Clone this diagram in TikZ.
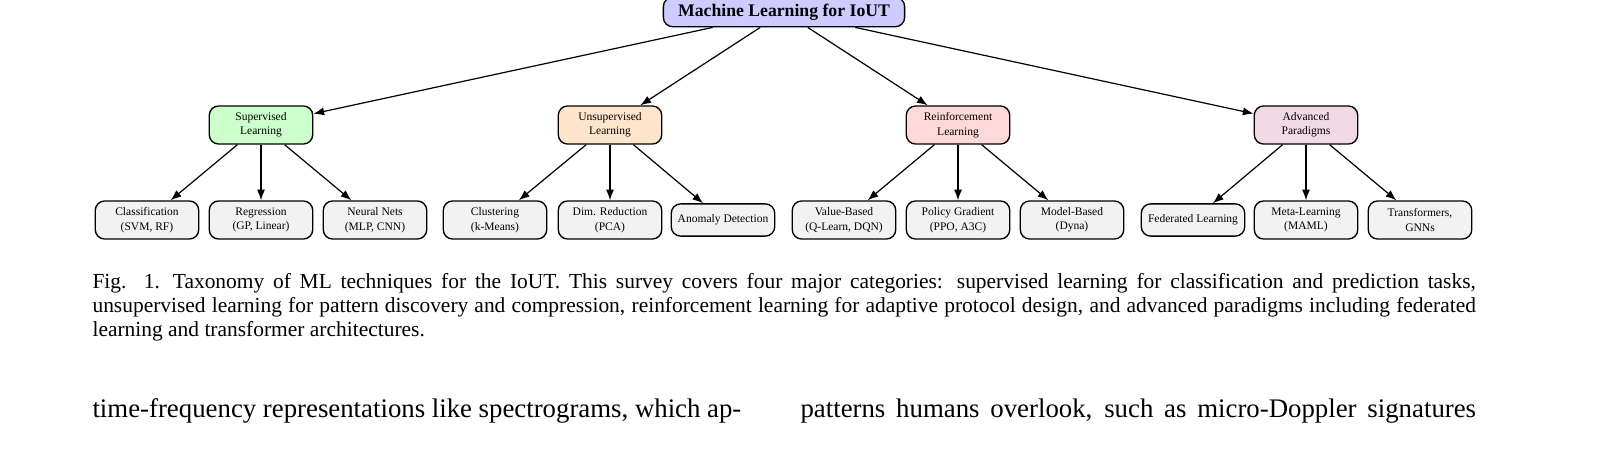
\documentclass[tikz,border=0pt]{standalone}
\usepackage{fontspec}
\setmainfont{Liberation Serif}
\usetikzlibrary{arrows.meta}
\definecolor{cTop}{HTML}{CCCCFF}
\definecolor{cSup}{HTML}{CCFFCC}
\definecolor{cUns}{HTML}{FFE5CC}
\definecolor{cRL}{HTML}{FFD9D9}
\definecolor{cAdv}{HTML}{F2D9E6}
\definecolor{cLeaf}{HTML}{F2F2F2}
\begin{document}
\begin{tikzpicture}[x=0.373pt,y=-0.373pt,
  box/.style={draw=black, rounded corners=3.5pt, line width=0.5pt, align=center, inner sep=0pt},
  top/.style={box, fill=cTop, minimum width=90pt, minimum height=11pt, font=\fontsize{6.6}{7.5}\selectfont\bfseries},
  mid/.style={box, minimum width=38.6pt, minimum height=14.2pt, font=\fontsize{4.3}{5.4}\selectfont},
  leaf/.style={box, fill=cLeaf, minimum width=38.6pt, minimum height=14.2pt, font=\fontsize{4.3}{5.4}\selectfont},
  leaf1/.style={leaf, minimum height=12pt},
  arr/.style={-{Latex[length=4pt,width=3pt]}, line width=0.45pt},
  body/.style={anchor=base west, inner sep=0pt, font=\fontsize{10}{12}\selectfont}]
\node[top] (root) at (784,12) {Machine Learning for IoUT};
\node[mid, fill=cSup] (sup) at (261,125) {Supervised\\Learning};
\node[mid, fill=cUns] (uns) at (610,125) {Unsupervised\\Learning};
\node[mid, fill=cRL] (rl) at (958,125) {Reinforcement\\Learning};
\node[mid, fill=cAdv] (adv) at (1306,125) {Advanced\\Paradigms};
\node[leaf] (s1) at (147,220) {Classification\\(SVM, RF)};
\node[leaf] (s2) at (261,220) {Regression\\(GP, Linear)};
\node[leaf] (s3) at (375,220) {Neural Nets\\(MLP, CNN)};
\node[leaf] (u1) at (495,220) {Clustering\\(k-Means)};
\node[leaf] (u2) at (610,220) {Dim. Reduction\\(PCA)};
\node[leaf1] (u3) at (723,220) {Anomaly Detection};
\node[leaf] (r1) at (844,220) {Value-Based\\(Q-Learn, DQN)};
\node[leaf] (r2) at (958,220) {Policy Gradient\\(PPO, A3C)};
\node[leaf] (r3) at (1072,220) {Model-Based\\(Dyna)};
\node[leaf1] (a1) at (1193,220) {Federated Learning};
\node[leaf] (a2) at (1306,220) {Meta-Learning\\(MAML)};
\node[leaf] (a3) at (1420,220) {Transformers,\\GNNs};
\foreach \m in {sup,uns,rl,adv} {\draw[arr] (root) -- (\m);}
\foreach \a/\b in {sup/s1,sup/s2,sup/s3,uns/u1,uns/u2,uns/u3,rl/r1,rl/r2,rl/r3,adv/a1,adv/a2,adv/a3} {\draw[arr] (\a) -- (\b);}
\node[anchor=north west, inner sep=0pt, text width=516pt, align=justify, font=\fontsize{8}{8.95}\selectfont] (cap) at (92,273)
{Fig. 1.\hspace{0.6em}Taxonomy of ML techniques for the IoUT. This survey covers four major categories: supervised learning for classification and prediction tasks,\linebreak unsupervised learning for pattern discovery and compression, reinforcement learning for adaptive protocol design, and advanced paradigms including federated\linebreak learning and transformer architectures.};
\node[body] (b1) at (92,417) {\makebox[242pt][s]{time-frequency representations like spectrograms, which ap-}};
\node[body] (b2) at (800,417) {\makebox[252pt][s]{patterns humans overlook, such as micro-Doppler signatures}};
\pgfresetboundingbox
\useasboundingbox (0,0) rectangle (1618,448);
\end{tikzpicture}
\end{document}
